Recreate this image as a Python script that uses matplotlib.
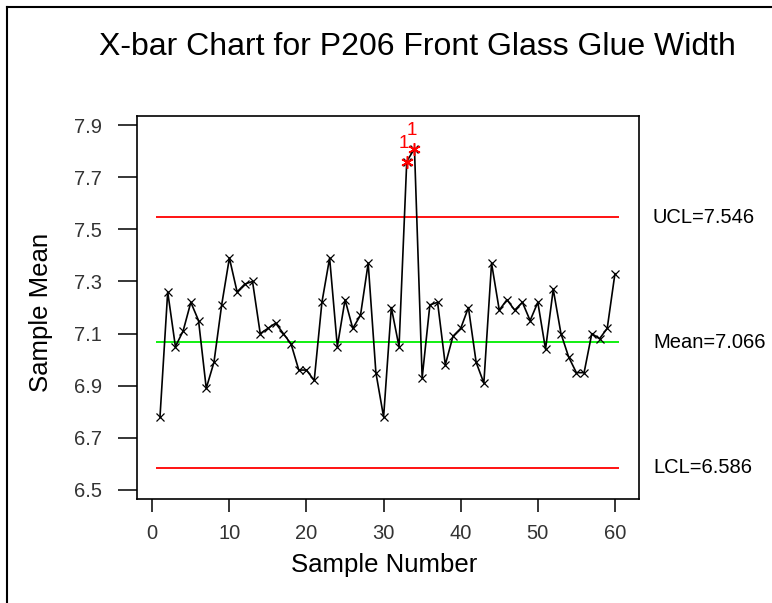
import matplotlib
matplotlib.use('Agg')
import matplotlib.pyplot as plt
from matplotlib import font_manager
from matplotlib.transforms import blended_transform_factory
from matplotlib.lines import Line2D

# sample means
sample_no = list(range(1, 61))
means = [6.78, 7.26, 7.05, 7.11, 7.22, 7.15, 6.89, 6.99, 7.21, 7.39,
         7.26, 7.29, 7.30, 7.10, 7.12, 7.14, 7.10, 7.06, 6.96, 6.96,
         6.92, 7.22, 7.39, 7.05, 7.23, 7.12, 7.17, 7.37, 6.95, 6.78,
         7.20, 7.05, 7.76, 7.81, 6.93, 7.21, 7.22, 6.98, 7.09, 7.12,
         7.20, 6.99, 6.91, 7.37, 7.19, 7.23, 7.19, 7.22, 7.15, 7.22,
         7.04, 7.27, 7.10, 7.01, 6.95, 6.95, 7.10, 7.08, 7.12, 7.33]
ucl = 7.546
center = 7.066
lcl = 6.586
flagged = [33, 34]           # points beyond UCL (test 1)
yticks = [6.5, 6.7, 6.9, 7.1, 7.3, 7.5, 7.7, 7.9]
xticks = [0, 10, 20, 30, 40, 50, 60]

names = {f.name for f in font_manager.fontManager.ttflist}
main_font = 'Liberation Sans' if 'Liberation Sans' in names else 'DejaVu Sans'
narrow_font = 'Liberation Sans Narrow' if 'Liberation Sans Narrow' in names else main_font
plt.rcParams['font.family'] = main_font

W, H = 772, 603
fig = plt.figure(figsize=(W / 100, H / 100), dpi=100)
fig.patch.set_facecolor('white')

# outer frame (left + top edges visible)
fig.add_artist(Line2D([7 / W, 7 / W], [0, 1 - 7 / H], transform=fig.transFigure, color='black', lw=1.5))
fig.add_artist(Line2D([7 / W, 1], [1 - 7 / H, 1 - 7 / H], transform=fig.transFigure, color='black', lw=1.5))

left, right, top, bottom = 136.7, 639.3, 116, 499.3
ax = fig.add_axes([left / W, 1 - bottom / H, (right - left) / W, (bottom - top) / H])

ax.plot(sample_no, means, color='black', lw=1.2, marker='x', ms=6, mew=0.9, zorder=3)

fx = [sample_no[i - 1] for i in flagged]
fy = [means[i - 1] for i in flagged]
ax.plot(fx, fy, ls='none', marker=(6, 2, 0), ms=9, mew=1.1, color='red', zorder=4)
for x, y in zip(fx, fy):
    ax.annotate('1', (x, y), xytext=(-2, 13), textcoords='offset points',
                ha='center', va='center', color='red', fontsize=13.5)

x0, x1 = sample_no[0] - 0.5, sample_no[-1] + 0.5
ax.hlines([ucl, lcl], x0, x1, colors='#ff0000', lw=1.3, zorder=2)
ax.hlines(center, x0, x1, colors='#00ee00', lw=1.3, zorder=2)

ax.set_xlim(-2.02, 63.16)
ax.set_ylim(6.464, 7.935)
ax.set_xticks(xticks)
ax.set_yticks(yticks)
ax.set_yticklabels([f'{v:.1f}' for v in yticks])
ax.tick_params(axis='x', direction='out', length=9.5, width=1.1, pad=8, labelsize=14.5, colors='black')
ax.tick_params(axis='y', direction='out', length=14, width=1.1, pad=11, labelsize=14.5, colors='black')
for lab in ax.get_xticklabels() + ax.get_yticklabels():
    lab.set_fontfamily(narrow_font)
    lab.set_color('#333333')
for s in ax.spines.values():
    s.set_linewidth(1.2)

tr = blended_transform_factory(fig.transFigure, ax.transData)
ax.text(653 / W, ucl, f'UCL={ucl:.3f}', transform=tr, va='center', ha='left', fontsize=14.5)
ax.text(653 / W, center, f'Mean={center:.3f}', transform=tr, va='center', ha='left', fontsize=14.5)
ax.text(653 / W, lcl, f'LCL={lcl:.3f}', transform=tr, va='center', ha='left', fontsize=14.5)

fig.text(417.5 / W, 1 - 47 / H, 'X-bar Chart for P206 Front Glass Glue Width',
         ha='center', va='center', fontsize=23)
fig.text(384.5 / W, 1 - 565 / H, 'Sample Number', ha='center', va='center', fontsize=18.5)
fig.text(41 / W, 1 - 312 / H, 'Sample Mean', ha='center', va='center', rotation=90, fontsize=18.5)

fig.savefig('out.png', dpi=100)
